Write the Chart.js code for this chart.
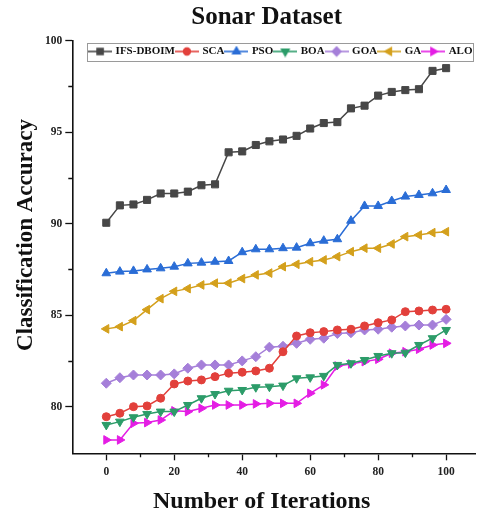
<!DOCTYPE html>
<html>
<head>
<meta charset="utf-8">
<script src="https://cdn.jsdelivr.net/npm/chart.js@4/dist/chart.umd.min.js"></script>
<style>
  html, body { margin: 0; padding: 0; background: #fff; }
  #wrap { width: 481px; height: 515px; }
</style>
</head>
<body>
<div id="wrap"><canvas id="chart" width="481" height="515"></canvas></div>
<script>
// Iteration checkpoints on the x axis
const iterations = [0, 4, 8, 12, 16, 20, 24, 28, 32, 36, 40, 44, 48, 52, 56, 60, 64, 68, 72, 76, 80, 84, 88, 92, 96, 100];

// Classification accuracy (%) of each optimiser at every checkpoint
const ifsDboim = [90.05, 91.0, 91.05, 91.3, 91.65, 91.65, 91.75, 92.1, 92.15, 93.9, 93.95, 94.3, 94.5, 94.6, 94.8, 95.2, 95.5, 95.55, 96.3, 96.45, 97.0, 97.2, 97.3, 97.35, 98.35, 98.5];
const sca = [79.45, 79.64, 80.0, 80.04, 80.46, 81.24, 81.4, 81.46, 81.64, 81.83, 81.88, 81.95, 82.1, 83.0, 83.86, 84.04, 84.1, 84.19, 84.23, 84.41, 84.59, 84.74, 85.19, 85.23, 85.28, 85.32];
const pso = [87.29, 87.38, 87.42, 87.5, 87.56, 87.65, 87.83, 87.87, 87.92, 87.96, 88.44, 88.6, 88.6, 88.66, 88.69, 88.93, 89.07, 89.15, 90.16, 90.97, 90.97, 91.24, 91.48, 91.57, 91.66, 91.84];
const boa = [79.0, 79.18, 79.42, 79.6, 79.73, 79.73, 80.09, 80.46, 80.69, 80.87, 80.91, 81.06, 81.09, 81.15, 81.55, 81.6, 81.68, 82.28, 82.37, 82.55, 82.77, 82.92, 82.95, 83.37, 83.74, 84.19];
const goa = [81.28, 81.58, 81.73, 81.73, 81.73, 81.79, 82.1, 82.28, 82.28, 82.28, 82.5, 82.73, 83.25, 83.3, 83.46, 83.68, 83.74, 84.0, 84.04, 84.19, 84.23, 84.34, 84.41, 84.46, 84.46, 84.77];
const ga = [84.25, 84.37, 84.7, 85.3, 85.9, 86.3, 86.45, 86.65, 86.75, 86.75, 87.0, 87.2, 87.3, 87.65, 87.78, 87.92, 88.02, 88.2, 88.47, 88.66, 88.66, 88.89, 89.29, 89.38, 89.51, 89.56];
const alo = [78.18, 78.18, 79.09, 79.13, 79.27, 79.77, 79.73, 79.91, 80.09, 80.09, 80.09, 80.15, 80.18, 80.18, 80.18, 80.73, 81.19, 82.22, 82.33, 82.46, 82.59, 82.92, 83.0, 83.14, 83.37, 83.46];

// Tick marks
const xTickValues = [0, 20, 40, 60, 80, 100];
const xMinorTicks = [10, 30, 50, 70, 90];
const yTickValues = [80, 85, 90, 95, 100];
const yMinorTicks = [82.5, 87.5, 92.5, 97.5];

// Text
const chartTitle = 'Sonar Dataset';
const xTitle = 'Number of Iterations';
const yTitle = 'Classification Accuracy';

const SERIF = '"Liberation Serif", "Times New Roman", serif';

// Series appearance: colour, marker shape, marker rotation
const seriesDefs = [
  { label: 'IFS-DBOIM', values: ifsDboim, color: '#474747', style: 'rect',     rot: 0,   r: 5.0 },
  { label: 'SCA',       values: sca,      color: '#e2403b', style: 'circle',   rot: 0,   r: 4.0 },
  { label: 'PSO',       values: pso,      color: '#2a6dd6', style: 'triangle', rot: 0,   r: 5.0 },
  { label: 'BOA',       values: boa,      color: '#2c9c69', style: 'triangle', rot: 180, r: 5.0 },
  { label: 'GOA',       values: goa,      color: '#a57fd9', style: 'rectRot',  rot: 0,   r: 5.0 },
  { label: 'GA',        values: ga,       color: '#d4a01c', style: 'triangle', rot: 270, r: 5.0 },
  { label: 'ALO',       values: alo,      color: '#e41de4', style: 'triangle', rot: 90,  r: 5.0 }
];

// Small "line + marker" swatch for each legend entry
function legendSwatch(def) {
  const c = document.createElement('canvas');
  c.width = 24; c.height = 12;
  const g = c.getContext('2d');
  g.strokeStyle = def.color;
  g.lineWidth = 1.6;
  g.beginPath(); g.moveTo(0, 6); g.lineTo(24, 6); g.stroke();
  g.fillStyle = def.color;
  Chart.helpers.drawPoint(g, { pointStyle: def.style, rotation: def.rot, radius: def.r * 0.85, borderWidth: 1 }, 12, 6);
  g.fill();
  return c;
}
const swatches = seriesDefs.map(legendSwatch);

const datasets = seriesDefs.map(def => ({
  label: def.label,
  data: iterations.map((it, i) => ({ x: it, y: def.values[i] })),
  borderColor: def.color,
  backgroundColor: def.color,
  borderWidth: 1.5,
  pointStyle: def.style,
  pointRotation: def.rot,
  pointRadius: def.r,
  pointBorderWidth: 1,
  pointBackgroundColor: def.color,
  pointBorderColor: def.color,
  tension: 0
}));

// Legend sits inside the plot frame as a single row, under a thin grey border
const legendFrame = {
  id: 'legendFrame',
  beforeLayout(chart) {
    if (chart.legend) chart.legend.isHorizontal = () => true;
  },
  afterLayout(chart) {
    const lg = chart.legend, a = chart.chartArea;
    lg.left = a.left + 15.3;
    lg.right = a.right;
    lg.top = a.top + 3.3;
    lg.bottom = a.top + 21;
    lg.width = lg.right - lg.left;
    lg.height = lg.bottom - lg.top;
  },
  afterDraw(chart) {
    const lg = chart.legend, ctx = chart.ctx, a = chart.chartArea;
    const x0 = Math.round(a.left + 14.7) + 0.5;
    const x1 = Math.round(a.right - 2.5) + 0.5;
    ctx.save();
    ctx.strokeStyle = '#9a9a9a';
    ctx.lineWidth = 1;
    ctx.strokeRect(x0, Math.round(lg.top - 1.5) + 0.5, x1 - x0, Math.round(lg.height));
    ctx.restore();
  }
};

// Short minor ticks between the labelled ones
const minorTicks = {
  id: 'minorTicks',
  afterDraw(chart) {
    const { ctx, scales: { x, y }, chartArea: a } = chart;
    ctx.save();
    ctx.strokeStyle = '#111';
    ctx.lineWidth = 1.3;
    ctx.beginPath();
    xMinorTicks.forEach(v => {
      const px = Math.round(x.getPixelForValue(v)) + 0.5;
      ctx.moveTo(px, a.bottom); ctx.lineTo(px, a.bottom + 4);
    });
    yMinorTicks.forEach(v => {
      const py = Math.round(y.getPixelForValue(v)) + 0.5;
      ctx.moveTo(a.left, py); ctx.lineTo(a.left - 4, py);
    });
    ctx.stroke();
    ctx.restore();
  }
};

// Chart title and axis titles
const frameTitles = {
  id: 'frameTitles',
  afterDraw(chart) {
    const { ctx, chartArea: a } = chart;
    const cx = (a.left + a.right) / 2;
    const cy = (a.top + a.bottom) / 2;
    ctx.save();
    ctx.fillStyle = '#111';
    ctx.textAlign = 'center';
    ctx.textBaseline = 'middle';
    ctx.font = 'bold 25px ' + SERIF;
    ctx.fillText(chartTitle, cx - 7, a.top - 23);
    ctx.font = 'bold 24px ' + SERIF;
    ctx.fillText(xTitle, cx - 12, a.bottom + 48.5);
    ctx.font = 'bold 23px ' + SERIF;
    ctx.translate(26, cy - 12);
    ctx.rotate(-Math.PI / 2);
    ctx.fillText(yTitle, 0, 0);
    ctx.restore();
  }
};

const tickFont = { family: SERIF, size: 11.5, weight: 'bold' };

new Chart(document.getElementById('chart'), {
  type: 'line',
  data: { datasets },
  options: {
    responsive: false,
    animation: false,
    events: [],
    layout: { padding: { top: 40.7, right: 4.3, left: 0, bottom: 0 } },
    plugins: {
      title: { display: false },
      tooltip: { enabled: false },
      legend: {
        display: true,
        position: 'chartArea',
        align: 'center',
        labels: {
          usePointStyle: true,
          pointStyleWidth: 20,
          boxHeight: 11,
          padding: 2,
          color: '#111',
          font: { family: SERIF, size: 11, weight: 'bold' },
          generateLabels(chart) {
            return chart.data.datasets.map((ds, i) => ({
              text: ds.label,
              datasetIndex: i,
              pointStyle: swatches[i],
              fillStyle: ds.borderColor,
              strokeStyle: ds.borderColor,
              lineWidth: 0,
              hidden: false,
              fontColor: '#111'
            }));
          }
        }
      }
    },
    scales: {
      x: {
        type: 'linear',
        min: -10,
        max: 108.5,
        afterFit(scale) { scale.height = 61.7; },
        afterBuildTicks(scale) { scale.ticks = xTickValues.map(v => ({ value: v })); },
        grid: { display: true, drawOnChartArea: false, drawTicks: true, tickLength: 7, tickColor: '#111', tickWidth: 1.3 },
        border: { display: true, color: '#111', width: 1.6 },
        ticks: { font: tickFont, color: '#222', padding: 5, maxRotation: 0 }
      },
      y: {
        type: 'linear',
        min: 77.45,
        max: 100,
        afterFit(scale) { scale.width = 72.3; },
        afterBuildTicks(scale) { scale.ticks = yTickValues.map(v => ({ value: v })); },
        grid: { display: true, drawOnChartArea: false, drawTicks: true, tickLength: 7, tickColor: '#111', tickWidth: 1.3 },
        border: { display: true, color: '#111', width: 1.6 },
        ticks: { font: tickFont, color: '#222', padding: 3 }
      }
    }
  },
  plugins: [legendFrame, minorTicks, frameTitles]
});
</script>
</body>
</html>
